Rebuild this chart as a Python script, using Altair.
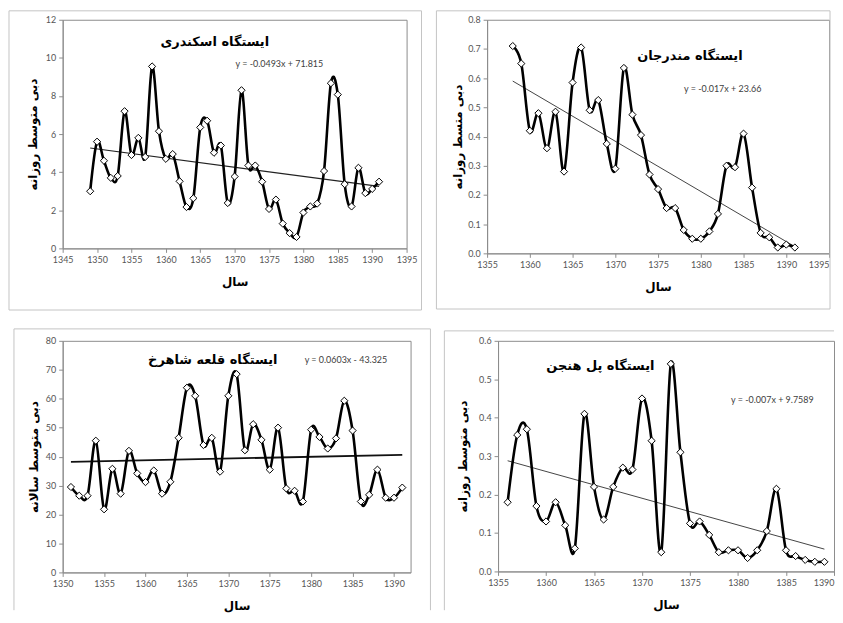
import altair as alt
import pandas as pd

# ---------------- data ----------------
years_eskandari = list(range(1349, 1392))
q_eskandari = [3.0, 5.6, 4.6, 3.7, 3.8, 7.2, 4.9, 5.8, 4.8, 9.55,
               6.15, 4.7, 4.95, 3.52, 2.17, 2.63, 6.35, 6.7, 5.02, 5.4,
               2.38, 3.77, 8.3, 4.35, 4.35, 3.5, 2.07, 2.56, 1.3, 0.8,
               0.6, 1.88, 2.2, 2.35, 4.06, 8.67, 8.07, 3.37, 2.2, 4.23,
               2.9, 3.12, 3.5]
trend_x_eskandari = [1349, 1391]
trend_y_eskandari = [5.27, 3.25]

years_mondarjan = list(range(1358, 1392))
q_mondarjan = [0.71, 0.65, 0.42, 0.48, 0.36, 0.485, 0.28, 0.585, 0.705, 0.49,
               0.525, 0.375, 0.29, 0.635, 0.475, 0.405, 0.27, 0.22, 0.155, 0.155,
               0.08, 0.05, 0.05, 0.075, 0.135, 0.30, 0.295, 0.41, 0.225, 0.07,
               0.055, 0.02, 0.03, 0.02]
trend_x_mondarjan = [1358, 1391]
trend_y_mondarjan = [0.59, 0.023]

years_shahrokh = list(range(1351, 1392))
q_shahrokh = [29.5, 26.5, 26.5, 45.5, 21.8, 35.8, 27.2, 42.0, 34.2, 31.2,
              35.2, 27.2, 31.3, 46.5, 63.8, 61.0, 44.0, 46.5, 34.8, 61.0,
              68.5, 42.2, 51.2, 45.8, 35.5, 50.0, 29.0, 28.2, 24.5, 49.3,
              46.8, 42.8, 46.3, 59.3, 49.0, 24.5, 26.8, 35.5, 25.8, 25.8,
              29.3]
trend_x_shahrokh = [1351, 1391]
trend_y_shahrokh = [38.2, 40.6]

years_hanjan = list(range(1356, 1390))
q_hanjan = [0.18, 0.355, 0.37, 0.17, 0.13, 0.18, 0.12, 0.06, 0.41, 0.22,
            0.135, 0.22, 0.27, 0.265, 0.45, 0.34, 0.05, 0.54, 0.31, 0.125,
            0.13, 0.095, 0.05, 0.055, 0.055, 0.035, 0.055, 0.105, 0.215, 0.055,
            0.04, 0.03, 0.025, 0.025]
trend_x_hanjan = [1356, 1389]
trend_y_hanjan = [0.288, 0.058]

titles = ["ایستگاه اسکندری", "ایستگاه مندرجان", "ایستگاه قلعه شاهرخ", "ایستگاه پل هنجن"]
equations = ["y = -0.0493x + 71.815", "y = -0.017x + 23.66", "y = 0.0603x - 43.325", "y = -0.007x + 9.7589"]
y_titles = ["دبی متوسط روزانه", "دبی متسط  روزانه", "دبی متوسط سالانه", "دبی متوسط روزانه"]
x_title = "سال"

x_ticks_1 = [1345, 1350, 1355, 1360, 1365, 1370, 1375, 1380, 1385, 1390, 1395]
x_ticks_2 = [1355, 1360, 1365, 1370, 1375, 1380, 1385, 1390, 1395]
x_ticks_3 = [1350, 1355, 1360, 1365, 1370, 1375, 1380, 1385, 1390]
x_ticks_4 = [1355, 1360, 1365, 1370, 1375, 1380, 1385, 1390]
y_ticks_1 = [0, 2, 4, 6, 8, 10, 12]
y_ticks_2 = [0, 0.1, 0.2, 0.3, 0.4, 0.5, 0.6, 0.7, 0.8]
y_ticks_3 = [0, 10, 20, 30, 40, 50, 60, 70, 80]
y_ticks_4 = [0, 0.1, 0.2, 0.3, 0.4, 0.5, 0.6]

FA_FONT = "DejaVu Sans"
NUM_FONT = "Lato"
BOX = "#c4c4c4"


def panel(years, vals, tx, ty, xdom, xticks, ydom, yticks, w, h,
          title, eq, ytitle, box, title_pos, eq_pos, ytitle_x, trend_w, trend_col,
          last_right=None):
    df = pd.DataFrame({"year": years, "q": vals})
    tdf = pd.DataFrame({"year": tx, "q": ty})
    xs = alt.Scale(domain=xdom, nice=False, zero=False)
    ys = alt.Scale(domain=ydom, nice=False, zero=False)
    xaxis_kw = dict(values=xticks, format="d", title=x_title,
                    labelOverlap=False, labelFlush=False,
                    titleY=33, titleBaseline="middle")
    if last_right is not None:
        xaxis_kw["labelAlign"] = alt.expr(
            f"datum.value == {last_right} ? 'right' : 'center'")
    X = alt.X("year:Q", scale=xs, axis=alt.Axis(**xaxis_kw))
    Y = alt.Y("q:Q", scale=ys,
              axis=alt.Axis(values=yticks, title=ytitle, titleX=ytitle_x,
                            labelOverlap=False, labelFlush=False,
                            titleBaseline="middle"))
    one = pd.DataFrame({"t": [0]})
    layers = []
    # panel frame (decoration)
    x1, y1, x2, y2, sides = box
    if "l" in sides:
        layers.append(alt.Chart(one).mark_rule(color=BOX, strokeWidth=1).encode(
            x=alt.value(x1), x2=alt.value(x1), y=alt.value(y1), y2=alt.value(y2)))
    if "r" in sides:
        layers.append(alt.Chart(one).mark_rule(color=BOX, strokeWidth=1).encode(
            x=alt.value(x2), x2=alt.value(x2), y=alt.value(y1), y2=alt.value(y2)))
    if "t" in sides:
        layers.append(alt.Chart(one).mark_rule(color=BOX, strokeWidth=1).encode(
            x=alt.value(x1), x2=alt.value(x2), y=alt.value(y1), y2=alt.value(y1)))
    if "b" in sides:
        layers.append(alt.Chart(one).mark_rule(color=BOX, strokeWidth=1).encode(
            x=alt.value(x1), x2=alt.value(x2), y=alt.value(y2), y2=alt.value(y2)))
    layers.append(alt.Chart(tdf).mark_line(color=trend_col, strokeWidth=trend_w).encode(
        x=X, y=Y))
    layers.append(alt.Chart(df).mark_line(interpolate="cardinal", color="black",
                                          strokeWidth=2.6).encode(x=X, y=Y))
    layers.append(alt.Chart(df).mark_point(shape="diamond", filled=True, fill="white",
                                           stroke="black", strokeWidth=1, size=52,
                                           opacity=1).encode(x=X, y=Y))
    layers.append(alt.Chart(pd.DataFrame({"t": [title]})).mark_text(
        font=FA_FONT, fontSize=13, fontWeight="bold", color="black",
        align="center", baseline="middle").encode(
        x=alt.value(title_pos[0]), y=alt.value(title_pos[1]), text="t:N"))
    layers.append(alt.Chart(pd.DataFrame({"t": [eq]})).mark_text(
        font=NUM_FONT, fontSize=9, color="#404040",
        align="center", baseline="middle").encode(
        x=alt.value(eq_pos[0]), y=alt.value(eq_pos[1]), text="t:N"))
    return alt.layer(*layers).properties(width=w, height=h)


# row 1: plot tops at y=17 ; row 2: plot tops at y=339
p1 = panel(years_eskandari, q_eskandari, trend_x_eskandari, trend_y_eskandari,
           [1345, 1395], x_ticks_1, [0, 12], y_ticks_1, 346, 230,
           titles[0], equations[0], y_titles[0],
           (-54, -9, 361, 292, "lrtb"), (153, 22), (218, 45), -30, 1.2, "#222")
p2 = panel(years_mondarjan, q_mondarjan, trend_x_mondarjan, trend_y_mondarjan,
           [1355, 1395], x_ticks_2, [0, 0.8], y_ticks_2, 344, 235,
           titles[1], equations[1], y_titles[1],
           (-51, -9, 345, 291, "lrtb"), (204, 36), (237, 70), -30, 1, "#444",
           last_right=1395)
p3 = panel(years_shahrokh, q_shahrokh, trend_x_shahrokh, trend_y_shahrokh,
           [1350, 1392], x_ticks_3, [0, 80], y_ticks_3, 350, 233,
           titles[2], equations[2], y_titles[2],
           (-49, -12, 370, 271, "lrt"), (151, 19), (285, 19), -29, 1.8, "#111")
p4 = panel(years_hanjan, q_hanjan, trend_x_hanjan, trend_y_hanjan,
           [1355, 1390], x_ticks_4, [0, 0.6], y_ticks_4, 338, 232,
           titles[3], equations[3], y_titles[3],
           (-54, -10, 338, 271, "lt"), (103, 25), (276, 60), -36, 1, "#444",
           last_right=1390)

chart = alt.vconcat(
    alt.hconcat(p1, p2, spacing=13),
    alt.hconcat(p3, p4, spacing=12),
    spacing=17,
).properties(padding=0, background="white").configure_view(
    stroke="#8c8c8c", strokeWidth=1
).configure_axis(
    grid=False, labelOverlap=False,
    domainColor="#8c8c8c", tickColor="#8c8c8c", tickSize=4,
    labelFont=NUM_FONT, labelFontSize=9, labelColor="#555555", labelPadding=3,
    titleFont=FA_FONT, titleFontSize=12, titleFontWeight="bold", titleColor="black",
)

chart.save("out.html", embed_options={"renderer": "svg", "actions": False})
